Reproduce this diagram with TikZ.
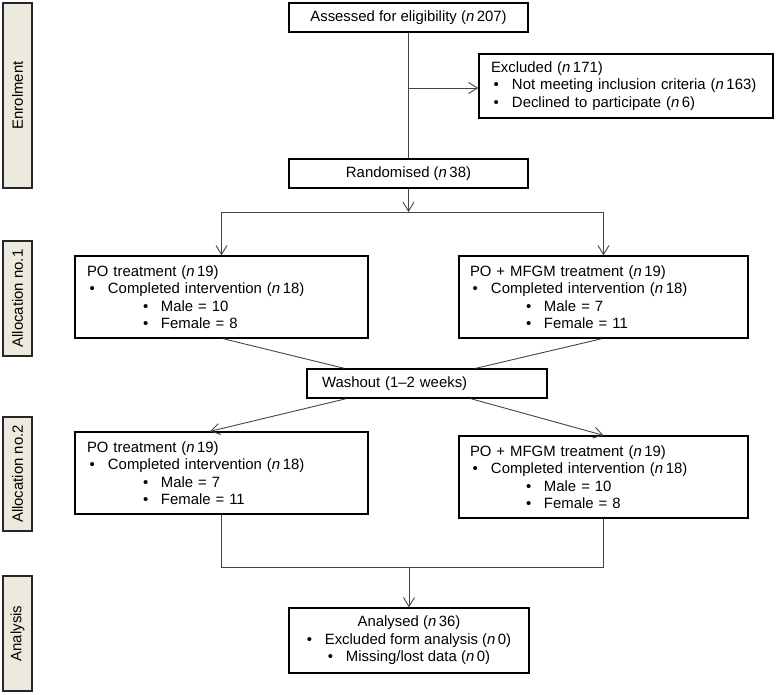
\documentclass[tikz,border=0pt]{standalone}
\usepackage{fontspec}
\setmainfont{Liberation Sans}
\usetikzlibrary{arrows.meta}
\definecolor{sidefill}{HTML}{ECEADF}
\definecolor{conn}{HTML}{444444}
\newcommand\bul{\hspace*{2.5pt}\makebox[18.5pt][l]{•}}
\newcommand\subbul{\hspace*{56pt}\makebox[18pt][l]{•}}
\newcommand\nn{\textit{n}\,}
\begin{document}
\begin{tikzpicture}[x=1pt,y=-1pt,
  txt/.style={font=\fontsize{14.9}{17.5}\selectfont},
  box/.style={txt,draw=black,line width=1.3pt,fill=white,inner sep=0pt},
  lbox/.style={box,align=left,inner xsep=12pt},
  side/.style={txt,draw=black!85,line width=1.3pt,fill=sidefill,rotate=90,inner sep=0pt,minimum height=29pt},
  conn/.style={draw=conn,line width=0.9pt},
  arr/.style={conn,-{Straight Barb[length=9pt,width=11pt]}}]
\useasboundingbox (0,0) rectangle (777,695);

% side labels
\node[side,minimum width=185pt] (s1) at (17.5,95.5) {Enrolment};
\node[side,minimum width=115pt] (s2) at (17.5,298.5) {Allocation no.1};
\node[side,minimum width=114pt] (s3) at (17.5,474) {Allocation no.2};
\node[side,minimum width=115pt] (s4) at (17.5,633.5) {Analysis};

% boxes
\node[box,minimum width=239pt,minimum height=29pt] (assess) at (408.5,17.5) {Assessed for eligibility (\nn207)};
\node[lbox,text width=270pt,minimum height=64pt] (excl) at (626,86)
  {Excluded (\nn171)\\\bul Not meeting inclusion criteria (\nn163)\\\bul Declined to participate (\nn6)};
\node[box,minimum width=239pt,minimum height=29pt] (rand) at (408.5,173.5) {Randomised (\nn38)};

\node[lbox,text width=269pt,minimum height=82pt] (po1) at (221.5,297)
  {PO treatment (\nn19)\\\bul Completed intervention (\nn18)\\\subbul Male = 10\\\subbul Female = 8};
\node[lbox,text width=267pt,minimum height=82pt,inner xsep=11pt] (mf1) at (603.5,297)
  {PO + MFGM treatment (\nn19)\\\bul Completed intervention (\nn18)\\\subbul Male = 7\\\subbul Female = 11};

\node[box,align=left,text width=210pt,inner xsep=15pt,minimum height=29pt] (wash) at (427,383.5) {Washout (1–2 weeks)};

\node[lbox,text width=269pt,minimum height=82pt] (po2) at (221.5,473)
  {PO treatment (\nn19)\\\bul Completed intervention (\nn18)\\\subbul Male = 7\\\subbul Female = 11};
\node[lbox,text width=267pt,minimum height=82pt,inner xsep=11pt] (mf2) at (603.5,477)
  {PO + MFGM treatment (\nn19)\\\bul Completed intervention (\nn18)\\\subbul Male = 10\\\subbul Female = 8};

\node[box,align=center,minimum width=240pt,minimum height=65pt] (anal) at (409,640.5)
  {Analysed (\nn36)\\\makebox[18pt][l]{•}Excluded form analysis (\nn0)\\\makebox[18pt][l]{•}Missing/lost data (\nn0)};

% connectors
\coordinate (j1) at (409,88);
\draw[conn] (assess.south) -- (rand.north);
\draw[arr] (j1) -- (j1 -| excl.west);
\coordinate (j2) at (408.5,212);
\draw[arr] (rand.south) -- (j2);
\draw[conn] (po1.north |- j2) -- (mf1.north |- j2);
\draw[arr] (po1.north |- j2) -- (po1.north);
\draw[arr] (mf1.north |- j2) -- (mf1.north);

\draw[conn] ([xshift=1.5pt]po1.south) -- ([xshift=38pt]wash.north west);
\draw[conn] ([xshift=-1.5pt]mf1.south) -- ([xshift=-72pt]wash.north east);
\draw[arr] ([xshift=40pt]wash.south west) -- ([xshift=-11.5pt]po2.north);
\draw[arr] ([xshift=-77pt]wash.south east) -- (mf2.north);

\coordinate (jb) at (409,567);
\draw[conn] (po2.south) -- (po2.south |- jb) -- (mf2.south |- jb) -- (mf2.south);
\draw[arr] (jb) -- (anal.north);
\end{tikzpicture}
\end{document}
